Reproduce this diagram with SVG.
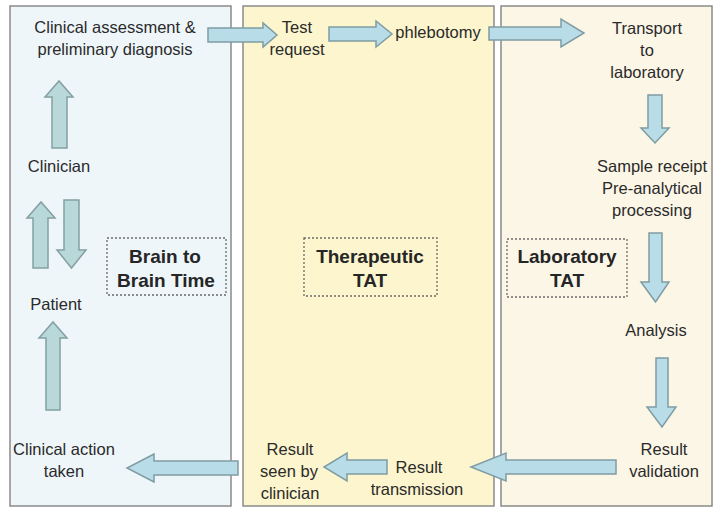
<svg xmlns="http://www.w3.org/2000/svg" width="714" height="509" viewBox="0 0 714 509">
<style>
.panel{stroke:#8a8a8a;stroke-width:1.5}
.t{font-family:"Liberation Sans",Arial,sans-serif;font-size:16.5px;fill:#2a2a2a;text-anchor:middle}
.b{font-family:"Liberation Sans",Arial,sans-serif;font-size:19px;font-weight:bold;fill:#262626;text-anchor:middle}
.dash{fill:none;stroke:#6a6a6a;stroke-width:1.3;stroke-dasharray:2 2}
.arr{fill:#b9dde8;stroke:#7f9ca3;stroke-width:1.5;stroke-linejoin:miter}
.arr2{fill:#b8d8da;stroke:#84a0a3;stroke-width:1.5}
</style>
<rect width="714" height="509" fill="#ffffff"/>
<g id="panel-brain">
<rect class="panel" x="10" y="6" width="221" height="500" fill="#eef6fa"/>
</g>
<g id="panel-therapeutic">
<rect class="panel" x="243" y="6" width="251" height="500" fill="#fcf5cd"/>
</g>
<g id="panel-lab">
<rect class="panel" x="501" y="6" width="211" height="500" fill="#fcf6e7"/>
</g>
<g id="connectors">
<polygon class="arr" points="208,28 263,28 263,23 277,35 263,47 263,42 208,42"/>
<polygon class="arr" points="329,27 376,27 376,21 392,34 376,47 376,41 329,41"/>
<polygon class="arr" points="489,27 561,27 561,19 584,33 561,47 561,40 489,40"/>
<polygon class="arr" points="648,95 662,95 662,128 669,128 655,143 641,128 648,128"/>
<polygon class="arr" points="649,233 662,233 662,282 669,282 655.5,302 641,282 649,282"/>
<polygon class="arr" points="656,358 668,358 668,407 676,407 662,427 647,407 656,407"/>
<polygon class="arr" points="616,460 506,460 506,453 471,467 506,481 506,474 616,474"/>
<polygon class="arr" points="387,460 347,460 347,453 324,467 347,481 347,474 387,474"/>
<polygon class="arr" points="238,461 154,461 154,454 127,468 154,482 154,475 238,475"/>
<polygon class="arr2" points="46,410 46,338 39,338 53,322 67,338 60,338 60,410"/>
<polygon class="arr2" points="33,268 33,218 27,218 41,202 55,218 48,218 48,268"/>
<polygon class="arr2" points="64,200 79,200 79,250 86,250 71.5,268 57,250 64,250"/>
<polygon class="arr2" points="52,148 52,97 45,97 59,81 73,97 67,97 67,148"/>
</g>
<g id="node-clinical-assessment">
<text class="t" x="115" y="33">Clinical assessment &amp;</text>
<text class="t" x="115" y="55">preliminary diagnosis</text>
</g>
<g id="node-test-request">
<text class="t" x="297" y="33">Test</text>
<text class="t" x="297" y="55">request</text>
</g>
<g id="node-phlebotomy">
<text class="t" x="438" y="38">phlebotomy</text>
</g>
<g id="node-transport">
<text class="t" x="647" y="34">Transport</text>
<text class="t" x="647" y="56">to</text>
<text class="t" x="647" y="78">laboratory</text>
</g>
<g id="node-sample-receipt">
<text class="t" x="652" y="172">Sample receipt</text>
<text class="t" x="652" y="194">Pre-analytical</text>
<text class="t" x="652" y="216">processing</text>
</g>
<g id="node-analysis">
<text class="t" x="656" y="336">Analysis</text>
</g>
<g id="node-result-validation">
<text class="t" x="664" y="455">Result</text>
<text class="t" x="664" y="477">validation</text>
</g>
<g id="node-result-transmission">
<text class="t" x="419" y="473">Result</text>
<text class="t" x="417" y="495">transmission</text>
</g>
<g id="node-result-seen">
<text class="t" x="290" y="455">Result</text>
<text class="t" x="289" y="477">seen by</text>
<text class="t" x="290" y="499">clinician</text>
</g>
<g id="node-clinical-action">
<text class="t" x="64" y="455">Clinical action</text>
<text class="t" x="64" y="477">taken</text>
</g>
<g id="node-patient">
<text class="t" x="56" y="310">Patient</text>
</g>
<g id="node-clinician">
<text class="t" x="59" y="172">Clinician</text>
</g>
<g id="label-brain-to-brain">
<rect class="dash" x="107" y="238" width="119" height="57"/>
<text class="b" x="165" y="263">Brain to</text>
<text class="b" x="166" y="287">Brain Time</text>
</g>
<g id="label-therapeutic-tat">
<rect class="dash" x="304" y="238" width="133" height="58"/>
<text class="b" x="370" y="263">Therapeutic</text>
<text class="b" x="370" y="287">TAT</text>
</g>
<g id="label-laboratory-tat">
<rect class="dash" x="507" y="239" width="120" height="58"/>
<text class="b" x="567" y="263">Laboratory</text>
<text class="b" x="567" y="287">TAT</text>
</g>
</svg>
